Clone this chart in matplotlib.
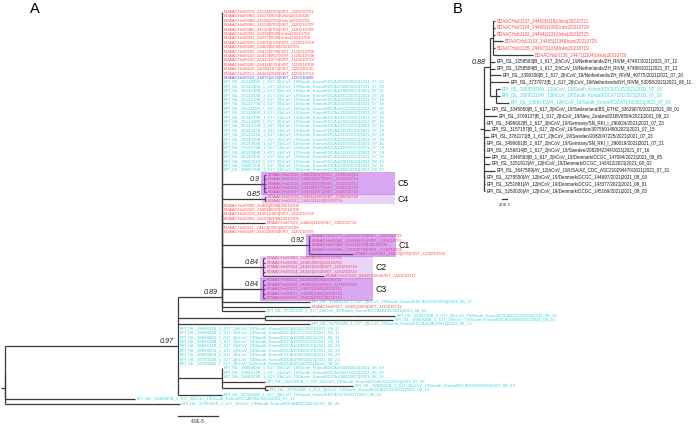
import matplotlib
matplotlib.use("Agg")
import matplotlib.pyplot as plt
from matplotlib.collections import LineCollection
from matplotlib.patches import Rectangle

RED = "#ff4a4a"
CYAN = "#38d6d6"
BLUE = "#5050ff"
BLK = "#1a1a1a"
LINE = "#3a3a3a"
FONT = "Liberation Sans"

# ---------------- Panel A data ----------------
top_red = [
    "BDAACHs00078_24114|0703|VBT_JJ20210701", "BDAACHs00081_24117|0630|Unkn|20210630",
    "BDAACHs00080_24116|0702|Unkn|20210703", "BDAACHs00083_24119|0702|VBT_JJ20210703",
    "BDAACHs00085_24120|0703|VBT_JJ20210706", "BDAACHs00092_24398|0630|Unkn|20210706",
    "BDAACHs00091_24397|0630|Unkn|20210706", "BDAACHs00099_24401|0702|VBT_JJ20210708",
    "BDAACHs00096_24404|0630|20210709", "BDAACHs00102_24412|0706|VBT_JJ20210709",
    "BDAACHs00103_24413|0627|VBT_JJ20210708", "BDAACHs00105_24415|1070|VBT_JJ20210712",
    "BDAACHs00106_24416|0701|VBT_JJ20210709", "BDAACHs00110_24420|1079|VBT_JJ20210715",
    "BDAACHs00112_24424|1080|VBT_JJ20210712",
]
top_blue = ["BDAACHs00101_24075|1176|VBT_JJ20210608"]
top_cyan = [
    "EPI_ISL_3614805B_1_617_2|hCoV_19/South_Korea/KDCA10334/2021|2021_07_12",
    "EPI_ISL_3614240B_1_617_2|hCoV_19/South_Korea/KDCA10306/2021|2021_07_16",
    "EPI_ISL_3614245B_1_617_2|hCoV_19/South_Korea/KDCA10308/2021|2021_07_16",
    "EPI_ISL_3614263B_1_617_2|hCoV_19/South_Korea/KDCA10312/2021|2021_07_16",
    "EPI_ISL_3614210B_1_617_2|hCoV_19/South_Korea/KDCA10298/2021|2021_07_16",
    "EPI_ISL_3614270B_1_617_2|hCoV_19/South_Korea/KDCA10316/2021|2021_07_18",
    "EPI_ISL_3614255B_1_617_2|hCoV_19/South_Korea/KDCA10310/2021|2021_07_16",
    "EPI_ISL_3614286B_1_617_2|hCoV_19/South_Korea/KDCA10320/2021|2021_07_18",
    "EPI_ISL_3614299B_1_617_2|hCoV_19/South_Korea/KDCA10322/2021|2021_07_16",
    "EPI_ISL_3614300B_1_617_2|hCoV_19/South_Korea/KDCA10325/2021|2021_07_19",
    "EPI_ISL_3614316B_1_617_2|hCoV_19/South_Korea/KDCA10327/2021|2021_07_16",
    "EPI_ISL_3614327B_1_617_2|hCoV_19/South_Korea/KDCA10329/2021|2021_07_19",
    "EPI_ISL_3614341B_1_617_2|hCoV_19/South_Korea/KDCA10331/2021|2021_07_19",
    "EPI_ISL_3614356B_1_617_2|hCoV_19/South_Korea/KDCA10333/2021|2021_07_18",
    "EPI_ISL_3614363B_1_617_2|hCoV_19/South_Korea/KDCA10336/2021|2021_07_16",
    "EPI_ISL_3614372B_1_617_2|hCoV_19/South_Korea/KDCA10339/2021|2021_07_19",
    "EPI_ISL_3614388B_1_617_2|hCoV_19/South_Korea/KDCA10341/2021|2021_07_19",
    "EPI_ISL_3614395B_1_617_2|hCoV_19/South_Korea/KDCA10344/2021|2021_07_16",
    "EPI_ISL_3868701B_1_617_2|hCoV_19/South_Korea/KDCA10381/2021|2021_08_10",
    "EPI_ISL_3868715B_1_617_2|hCoV_19/South_Korea/KDCA10383/2021|2021_08_11",
    "EPI_ISL_3868729B_1_617_2|hCoV_19/South_Korea/KDCA10385/2021|2021_08_10",
]
c5_labels = ["BDAACHs00120_24452|1073|VBT_JJ20210713", "BDAACHs00126_24450|1075|VBT_JJ20210714",
             "BDAACHs00125_24449|1078|VBT_JJ20210713", "BDAACHs00124_24448|1077|VBT_JJ20210713",
             "BDAACHs00127_24451|1071|VBT_JJ20210716"]
c4_labels = ["BDAACHs00128_24481|1083|VBT_JJ20210709", "BDAACHs00123_24461|1116|20210716"]
mid_red_a = ["BDAACHs00098_24406|0998|20210706", "BDAACHs00093_24404|0997|20210706",
             "BDAACHs00119_24451|1064|VBT_JJ20210716", "BDAACHs00094_24150|0998|20210706"]
mid_red_b = "BDAACHs00129_24480|1116|VBT_JJ20210716"
mid_red_c = ["BDAACHs00111_24421|0990|20210709", "BDAACHs00100_24411|0998|VBT_JJ20210709"]
c1_labels = ["BDAACHs00079_24115|0702|VBT_JJ20210703", "BDAACHs00082_24118|0702|VBT_JJ20210703",
             "BDAACHs00084_24121|0703|20210706", "BDAACHs00086_24122|0702|VBT_JJ20210706",
             "BDAACHs00087_24123|0702|VBT_JJ20210706"]
c2_labels = ["BDAACHs00089_24403|0995|20210706", "BDAACHs00090_24405|0996|20210706",
             "BDAACHs00113_24432|1060|VBT_JJ20210716", "BDAACHs00114_24433|1062|VBT_JJ20210717",
             "BDAACHs00116_24435|1063|VBT_JJ20210717"]
c3_labels = ["BDAACHs00115_24434|1059|20210711", "BDAACHs00118_24436|1061|VBT_JJ20210709",
             "BDAACHs00121_24437|1065|20210711", "BDAACHs00122_24438|1066|20210714",
             "BDAACHs00130_24439|1067|20210714"]
low_a = [("EPI_ISL_3560461B_1_617_2|hCoV_19/South_Korea/KDCA10216/2021|2021_08_17", CYAN, 88),
         ("BDAACHs00117_24435|1064|VBT_JJ20210712", RED, 88),
         ("EPI_ISL_3570311B_1_617_2|hCoV_19/South_Korea/KDCA10496/2021|2021_08_23", CYAN, 43)]
na_labels = ["EPI_ISL_3544733B_1_617_2|hCoV_19/South_Korea/KDCA10019/2021|2021_08_14",
             "EPI_ISL_3666928B_1_617_2|hCoV_19/South_Korea/KDCA10496/2021|2021_08_20"]
na_bl = [130, 128]
single_r71 = "EPI_ISL_3670002B_1_617_2|hCoV_19/South_Korea/KDCA10481/2021|2021_08_23"
cyan9 = [
    "EPI_ISL_3868817B_1_617_2|hCoV_19/South_Korea/KDCA10147/2021|2021_08_11",
    "EPI_ISL_3868804B_1_617_2|hCoV_19/South_Korea/KDCA10177/2021|2021_08_11",
    "EPI_ISL_3868805B_1_617_2|hCoV_19/South_Korea/KDCA10208/2021|2021_08_11",
    "EPI_ISL_3868818B_1_617_2|hCoV_19/South_Korea/KDCA10216/2021|2021_08_11",
    "EPI_ISL_3868817B_1_617_2|hCoV_19/South_Korea/KDCA10245/2021|2021_08_20",
    "EPI_ISL_3868820B_1_617_2|hCoV_19/South_Korea/KDCA10248/2021|2021_08_23",
    "EPI_ISL_3868840B_1_617_2|hCoV_19/South_Korea/KDCA10249/2021|2021_08_23",
    "EPI_ISL_3870022B_1_617_2|hCoV_19/South_Korea/KDCA10493/2021|2021_08_23",
    "EPI_ISL_3870030B_1_617_2|hCoV_19/South_Korea/KDCA10503/2021|2021_08_22",
]
nb_cyan = ["EPI_ISL_3868902B_1_617_2|hCoV_19/South_Korea/KDCA10048/2021|2021_08_19",
           "EPI_ISL_3868917B_1_617_2|hCoV_19/South_Korea/KDCA10051/2021|2021_08_26",
           "EPI_ISL_3868921B_1_617_2|hCoV_19/South_Korea/KDCA10055/2021|2021_08_26"]
nb_r84 = "EPI_ISL_3431990B_1_617_2|hCoV_19/South_Korea/KDCA7614/2021|2021_07_16"
nc_labels = ["EPI_ISL_3889526B_1_617_2|hCoV_19/South_Korea/KDCA10513/2021|2021_08_23",
             "EPI_ISL_3670056B_1_617_2|hCoV_19/South_Korea/KDCA10511/2021|2021_08_23"]
nc_bl = [88, 3]
single_r87 = "EPI_ISL_3670020B_1_617_2|hCoV_19/South_Korea/KDCA7473/2021|2021_08_23"
out_labels = ["EPI_ISL_3644807B_1_617_2|hCoV_19/South_Korea/KDCA6966/2021|2021_07_31",
              "EPI_ISL_3295333B_1_617_2|hCoV_19/South_Korea/KDCA4825/2021|2021_06_26"]
out_bl = [130, 175]

# ---------------- Panel B data ----------------
b_red = ["BDAACHs00137_24469|1118|Unkn|20210721", "BDAACHs00134_24468|1108|Unkn|20210719",
         "BDAACHs00132_24464|1131|Unkn|20210725", "BDAACHs00133_24465|1134|Unkn|20210725",
         "BDAACHs00135_24467|1103|Unkn|20210719", "BDAACHs00136_24471|1104|Unkn|20210726"]
b_red_bl = [16, 16, 16, 80, 16, 320]
b_nl = ["EPI_ISL_3258583|B_1_617_2|hCoV_19/Netherlands/ZH_RIVM_47497/2021|2021_07_12",
        "EPI_ISL_3258584|B_1_617_2|hCoV_19/Netherlands/ZH_RIVM_47498/2021|2021_07_12",
        "EPI_ISL_3390336|B_1_617_2|hCoV_19/Netherlands/ZH_RIVM_49775/2021|2021_07_20",
        "EPI_ISL_3737073|B_1_617_2|hCoV_19/Netherlands/NH_RIVM_53058/2021|2021_08_11"]
b_nl_bl = [40, 40, 88, 152]
b_kr = ["EPI_ISL_3369597|AY_12|hCoV_19/South_Korea/KDCA7137/2021|2021_07_15",
        "EPI_ISL_3369121|AY_12|hCoV_19/South_Korea/KDCA7151/2021|2021_07_16",
        "EPI_ISL_3368143|AY_12|hCoV_19/South_Korea/KDCA7143/2021|2021_07_16"]
b_kr_bl = [32, 32, 104]
b_rest = ["EPI_ISL_3345850|B_1_617_2|hCoV_19/Switzerland/BS_ETHZ_33629078/2021|2021_08_01",
          "EPI_ISL_3709137|B_1_617_2|hCoV_19/New_Zealand/21BV0584/2021|2021_08_22",
          "EPI_ISL_3496602|B_1_617_2|hCoV_19/Germany/SN_RKI_I_290024/2021|2021_07_23",
          "EPI_ISL_3157157|B_1_617_2|hCoV_19/Sweden/3075691490/2021|2021_07_15",
          "EPI_ISL_3761171|B_1_617_2|hCoV_19/Sweden/2082047225/2021|2021_07_23",
          "EPI_ISL_3496601|B_1_617_2|hCoV_19/Germany/SN_RKI_I_290019/2021|2021_07_21",
          "EPI_ISL_3156814|B_1_617_2|hCoV_19/Sweden/2082042344/2021|2021_07_16",
          "EPI_ISL_3346593|B_1_617_2|hCoV_19/Denmark/DCGC_147094/2021|2021_08_05",
          "EPI_ISL_3251912|AY_12|hCoV_19/Denmark/DCGC_143412/2021|2021_08_02",
          "EPI_ISL_3647589|AY_12|hCoV_19/USA/AZ_CDC_ASC210294470/2021|2021_07_31",
          "EPI_ISL_3279550|AY_12|hCoV_19/Denmark/DCGC_144697/2021|2021_08_03",
          "EPI_ISL_3251881|AY_12|hCoV_19/Denmark/DCGC_143377/2021|2021_08_01",
          "EPI_ISL_3280026|AY_12|hCoV_19/Denmark/DCGC_145169/2021|2021_08_03"]
b_rest_bl = [48, 104, 8, 48, 40, 8, 8, 48, 48, 88, 8, 8, 8]

# highlight extents (right edge of shaded clade boxes, px) and shade strength
clade_box_right = {"C5": 395, "C4": 395, "C1": 396, "C2": 373, "C3": 373}
clade_alpha = {"dark": 0.45, "light": 0.22}


# ---------------- tree helpers ----------------
def L(label, color, bl):
    return {"label": label, "color": color, "bl": bl, "children": None}


def N(bl, children, support=None, clade=None, shade=None):
    return {"bl": bl, "children": children, "support": support, "clade": clade, "shade": shade}


def ladder(bl, flat, extra, support=None):
    cur = N(0, flat)
    for e in extra:
        cur = N(0, [cur, e])
    cur["bl"] = bl
    cur["support"] = support
    return cur


def layout(node, px, rows, scale):
    node["x"] = px + node["bl"] * scale
    if node["children"] is None:
        node["y"] = rows.pop(0)
    else:
        for c in node["children"]:
            layout(c, node["x"], rows, scale)
        node["y"] = (node["children"][0]["y"] + node["children"][-1]["y"]) / 2


def count_leaves(node):
    if node["children"] is None:
        return 1
    return sum(count_leaves(c) for c in node["children"])


def leaves(node):
    if node["children"] is None:
        return [node]
    out = []
    for c in node["children"]:
        out += leaves(c)
    return out


def internal(node):
    if node["children"] is None:
        return []
    out = [node]
    for c in node["children"]:
        out += internal(c)
    return out


# ---------------- build tree A ----------------
top_group = ([L(s, RED, 0) for s in top_red] + [L(s, BLUE, 0) for s in top_blue]
             + [L(s, CYAN, 0) for s in top_cyan])
C5 = N(42, [L(s, RED, 2) for s in c5_labels], 0.9, "C5", "dark")
C4 = N(43, [L(s, RED, 1) for s in c4_labels], 0.85, "C4", "light")
C1 = N(87, [L(s, RED, 1) for s in c1_labels[:-1]] + [L(c1_labels[-1], RED, 44)], 0.92, "C1", "dark")
C2 = N(41, [L(s, RED, 2) for s in c2_labels[:-1]] + [L(c2_labels[-1], RED, 61)], 0.84, "C2", "light")
C3 = N(41, [L(s, RED, 2) for s in c3_labels], 0.84, "C3", "dark")
flat089 = (top_group + [C5, C4] + [L(s, RED, 0) for s in mid_red_a] + [L(mid_red_b, RED, 43)]
           + [L(s, RED, 0) for s in mid_red_c] + [C1, C2])
N089 = ladder(44, flat089, [C3] + [L(s, c, b) for s, c, b in low_a], 0.89)
Na = N(87, [L(s, CYAN, b) for s, b in zip(na_labels, na_bl)])
Nc = N(43, [L(s, CYAN, b) for s, b in zip(nc_labels, nc_bl)])
Nb = N(44, [L(s, CYAN, 0) for s in nb_cyan] + [L(nb_r84, CYAN, 43), Nc])
N097 = N(173, [N089, Na, L(single_r71, CYAN, 132)] + [L(s, CYAN, 0) for s in cyan9]
         + [Nb, L(single_r87, CYAN, 44)], 0.97)
rootA = N(0, [N(0, [N097, L(out_labels[0], CYAN, out_bl[0])]), L(out_labels[1], CYAN, out_bl[1])])

# ---------------- build tree B ----------------
Bred = N(24, [L(s, RED, b) for s, b in zip(b_red, b_red_bl)])
Bkr = N(48, [L(s, CYAN, b) for s, b in zip(b_kr, b_kr_bl)])
B088 = N(48, [Bred] + [L(s, BLK, b) for s, b in zip(b_nl, b_nl_bl)] + [Bkr], 0.88)
rootB = N(0, [B088] + [L(s, BLK, b) for s, b in zip(b_rest, b_rest_bl)])

# ---------------- figure ----------------
fig = plt.figure(figsize=(7.0, 4.25), dpi=100)
ax = fig.add_axes([0, 0, 1, 1])
ax.set_xlim(0, 700)
ax.set_ylim(425, 0)
ax.axis("off")

TREES = [
    # root, root x (px), px per 1e-6, first row y, row step, label size
    (rootA, 5.0, 1.0, 12.0, 4.4, 3.05),
    (rootB, 484.0, 0.125, 21.0, 6.8, 3.25),
]

boxes = []
for root, x0, scale, y0, dy, fs in TREES:
    n = count_leaves(root)
    rows = [y0 + i * dy for i in range(n)]
    layout(root, x0, rows, scale)
    segs = [[(root["x"] - 4, root["y"]), (root["x"], root["y"])]]
    for nd in internal(root):
        ch = nd["children"]
        segs.append([(nd["x"], ch[0]["y"]), (nd["x"], ch[-1]["y"])])
        for c in ch:
            if c["x"] > nd["x"]:
                segs.append([(nd["x"], c["y"]), (c["x"], c["y"])])
        if nd.get("support") is not None:
            ax.text(nd["x"] - 4, nd["y"] - 1.0, f"{nd['support']:g}", fontsize=5.2, style="italic",
                    ha="right", va="bottom", family=FONT, color="#222222")
    ax.add_collection(LineCollection(segs, colors=LINE, linewidths=0.9, capstyle="butt"))
    for lf in leaves(root):
        ax.text(lf["x"] + 2, lf["y"], lf["label"], fontsize=fs, color=lf["color"],
                va="center", ha="left", family=FONT)
    for nd in internal(root):
        if nd.get("clade"):
            boxes.append((nd, dy))

for nd, dy in boxes:
    lv = leaves(nd)
    top = lv[0]["y"] - dy / 2 - 0.6
    bot = lv[-1]["y"] + dy / 2 + 0.6
    left = nd["x"] - 3
    right = clade_box_right[nd["clade"]]
    ax.add_patch(Rectangle((left, top), right - left, bot - top, facecolor="#a93ce0",
                           alpha=clade_alpha[nd["shade"]], edgecolor="none", zorder=5))
    ax.text(right + 2.5, nd["y"], nd["clade"], fontsize=6.3, va="center", ha="left",
            family=FONT, color="#111111")

# scale bars
ax.plot([178, 218], [416, 416], color=LINE, lw=0.9)
ax.text(198, 421.5, "4.0E-5", fontsize=3.4, ha="center", va="center", family=FONT, color="#333333")
ax.plot([502, 507], [199, 199], color=LINE, lw=0.9)
ax.text(504.5, 205, "4.0E-5", fontsize=3.0, ha="center", va="center", family=FONT, color="#333333")

# panel letters
ax.text(35, 9, "A", fontsize=10.5, ha="center", va="center", family=FONT)
ax.text(458, 9, "B", fontsize=10.5, ha="center", va="center", family=FONT)

fig.savefig("out.png", dpi=100)
